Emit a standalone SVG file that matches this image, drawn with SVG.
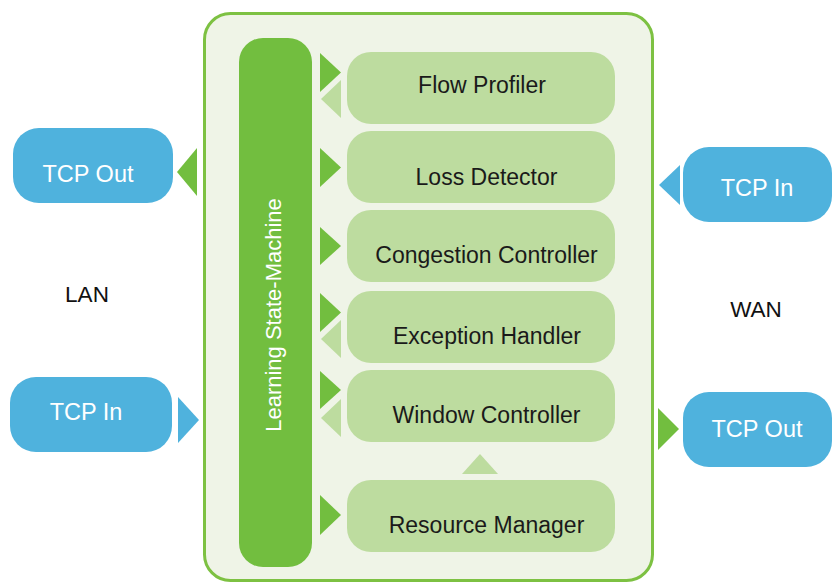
<svg xmlns="http://www.w3.org/2000/svg" width="834" height="582" viewBox="0 0 834 582">
<style>
  .t { font-family: "Liberation Sans", Arial, sans-serif; }
  .mod rect { fill: #bddc9f; }
  .mod text { font-size: 23px; fill: #1a1a1a; text-anchor: middle; }
  .tcp rect { fill: #4fb2dd; }
  .tcp text { font-size: 23.5px; fill: #ffffff; text-anchor: middle; }
  .dk { fill: #72be3f; }
  .lt { fill: #bddc9f; }
  .bl { fill: #4fb2dd; }
  .lbl { font-size: 22.5px; fill: #111111; text-anchor: middle; }
</style>
<rect width="834" height="582" fill="#ffffff"/>
<g id="container">
  <rect x="204.5" y="13.5" width="448" height="567" rx="26" fill="#eff4e7" stroke="#7dc142" stroke-width="3"/>
</g>
<g id="learning-state-machine">
  <rect x="239" y="38" width="73" height="529" rx="24" fill="#72be3f"/>
  <text class="t" transform="translate(281,315) rotate(-90)" font-size="22" fill="#ffffff" text-anchor="middle">Learning State-Machine</text>
</g>
<g id="flow-profiler" class="mod t">
  <rect x="347" y="52" width="268" height="72" rx="24"/>
  <text x="482" y="93">Flow Profiler</text>
</g>
<g id="loss-detector" class="mod t">
  <rect x="347" y="131" width="268" height="72" rx="24"/>
  <text x="486.5" y="185">Loss Detector</text>
</g>
<g id="congestion-controller" class="mod t">
  <rect x="347" y="210" width="268" height="72" rx="24"/>
  <text x="486.5" y="263">Congestion Controller</text>
</g>
<g id="exception-handler" class="mod t">
  <rect x="347" y="291" width="268" height="72" rx="24"/>
  <text x="487" y="344">Exception Handler</text>
</g>
<g id="window-controller" class="mod t">
  <rect x="347" y="370" width="268" height="72" rx="24"/>
  <text x="486.5" y="423">Window Controller</text>
</g>
<g id="resource-manager" class="mod t">
  <rect x="347" y="480" width="268" height="72" rx="24"/>
  <text x="486.5" y="533">Resource Manager</text>
</g>
<g id="lan-tcp-out" class="tcp t">
  <rect x="13" y="128" width="160" height="75" rx="26"/>
  <text x="88" y="182">TCP Out</text>
</g>
<g id="lan-tcp-in" class="tcp t">
  <rect x="10" y="377" width="162" height="75" rx="26"/>
  <text x="86" y="420">TCP In</text>
</g>
<g id="wan-tcp-in" class="tcp t">
  <rect x="683" y="147" width="149" height="75" rx="26"/>
  <text x="757" y="196">TCP In</text>
</g>
<g id="wan-tcp-out" class="tcp t">
  <rect x="683" y="392" width="149" height="75" rx="26"/>
  <text x="757" y="437">TCP Out</text>
</g>
<g id="labels" class="t">
  <text class="lbl" x="87" y="302">LAN</text>
  <text class="lbl" x="756" y="317">WAN</text>
</g>
<g id="connectors">
  <polygon class="dk" points="320,53 341,72.5 320,92"/>
  <polygon class="lt" points="341,80 321,99 341,118"/>
  <polygon class="dk" points="320,148 341,167.5 320,187"/>
  <polygon class="dk" points="320,227 341,246 320,265"/>
  <polygon class="dk" points="320,293 341,312.5 320,332"/>
  <polygon class="lt" points="341,320 321,339 341,358"/>
  <polygon class="dk" points="320,371 341,390 320,409"/>
  <polygon class="lt" points="341,399 321,418 341,437"/>
  <polygon class="dk" points="320,495 341,515 320,535"/>
  <polygon class="lt" points="462,474 480,454 498,474"/>
  <polygon class="dk" points="197,148 177,172 197,196"/>
  <polygon class="bl" points="178,397 199,420 178,443"/>
  <polygon class="bl" points="680,165 659,185 680,205"/>
  <polygon class="dk" points="658,408 679,429 658,450"/>
</g>
</svg>
